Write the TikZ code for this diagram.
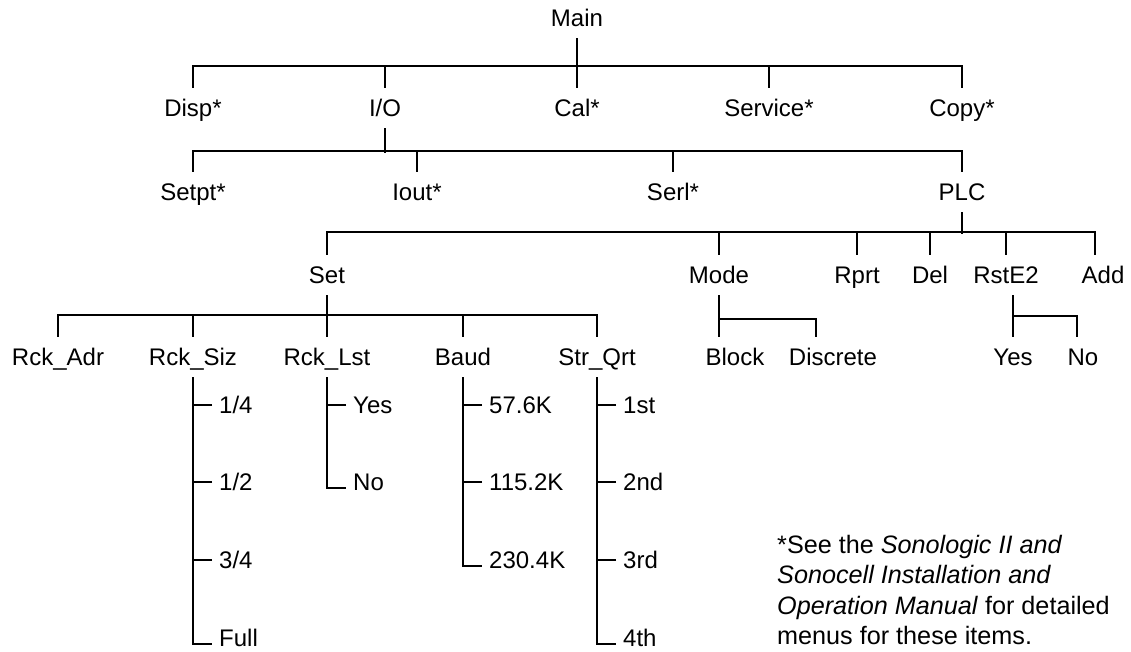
\documentclass[tikz,border=0pt]{standalone}
\usepackage{fontspec}
\setmainfont{Liberation Sans}

\begin{document}
\begin{tikzpicture}[x=0.5pt,y=-0.5pt,line width=1.2pt,
  menu/.style={font=\fontsize{12}{16}\selectfont,inner sep=0pt,text height=8.6pt,text depth=0pt,minimum height=19pt},
  choice/.style={menu,anchor=west,inner xsep=3pt}]
\useasboundingbox (0,0) rectangle (1131,652);
\node[menu] (main) at (577,18) {Main};
\node[menu] (disp) at (193,108) {Disp*};
\node[menu] (io) at (385,108) {I/O};
\node[menu] (cal) at (577,108) {Cal*};
\node[menu] (service) at (769,108) {Service*};
\node[menu] (copy) at (962,108) {Copy*};
\draw (main.south) -- (cal.north);
\draw (disp.north) -- ++(0,-22) -| (copy.north);
\draw (io.north) -- ++(0,-22);
\draw (service.north) -- ++(0,-22);
\node[menu] (setpt) at (193,192) {Setpt*};
\node[menu] (iout) at (417,192) {Iout*};
\node[menu] (serl) at (673,192) {Serl*};
\node[menu] (plc) at (962,192) {PLC};
\draw (io.south) -- ++(0,25);
\draw (setpt.north) -- ++(0,-21) -| (plc.north);
\draw (iout.north) -- ++(0,-21);
\draw (serl.north) -- ++(0,-21);
\node[menu] (set) at (327,275) {Set};
\node[menu] (mode) at (719,275) {Mode};
\node[menu] (rprt) at (857,275) {Rprt};
\node[menu] (del) at (930,275) {Del};
\node[menu] (rste) at (1006,275) {RstE2};
\node[menu] (add) at (1103,275) {Add};
\draw (plc.south) -- ++(0,22);
\draw (set.north) -- ++(0,-23) -| ([xshift=-4pt]add.north);
\draw (mode.north) -- ++(0,-23);
\draw (rprt.north) -- ++(0,-23);
\draw (del.north) -- ++(0,-23);
\draw (rste.north) -- ++(0,-23);
\node[menu] (rckadr) at (58,357) {Rck\_Adr};
\node[menu] (rcksiz) at (193,357) {Rck\_Siz};
\node[menu] (rcklst) at (327,357) {Rck\_Lst};
\node[menu] (baud) at (463,357) {Baud};
\node[menu] (strqrt) at (597,357) {Str\_Qrt};
\node[menu] (block) at (735,357) {Block};
\node[menu] (discrete) at (833,357) {Discrete};
\node[menu] (yes) at (1013,357) {Yes};
\node[menu] (no) at (1083,357) {No};
\draw (set.south) -- ++(0,22);
\draw (rckadr.north) -- ++(0,-22) -| (strqrt.north);
\draw (rcksiz.north) -- ++(0,-22);
\draw (rcklst.north) -- ++(0,-22);
\draw (baud.north) -- ++(0,-22);
\draw (mode.south) -- (mode.south |- block.north);
\draw (mode.south) ++(0,24) -| ([xshift=-8.5pt]discrete.north);
\draw (yes.north |- rste.south) -- (yes.north);
\draw (yes.north) ++(0,-21) -| ([xshift=-3pt]no.north);
\node[choice] (siz1) at (212,405) {1/4};
\node[choice] (siz2) at (212,482) {1/2};
\node[choice] (siz3) at (212,560) {3/4};
\node[choice] (siz4) at (212,638) {Full};
\draw (rcksiz.south) |- ([yshift=-3pt]siz4.west);
\foreach \n in {siz1,siz2,siz3} \draw (\n.west) -- (\n.west -| rcksiz.south);
\node[choice] (lst1) at (346,405) {Yes};
\node[choice] (lst2) at (346,482) {No};
\draw (rcklst.south) |- ([yshift=-3pt]lst2.west);
\draw (lst1.west) -- (lst1.west -| rcklst.south);
\node[choice] (baud1) at (482,405) {57.6K};
\node[choice] (baud2) at (482,482) {115.2K};
\node[choice] (baud3) at (482,560) {230.4K};
\draw (baud.south) |- ([yshift=-3pt]baud3.west);
\foreach \n in {baud1,baud2} \draw (\n.west) -- (\n.west -| baud.south);
\node[choice] (qrt1) at (616,405) {1st};
\node[choice] (qrt2) at (616,482) {2nd};
\node[choice] (qrt3) at (616,560) {3rd};
\node[choice] (qrt4) at (616,638) {4th};
\draw (strqrt.south) |- ([yshift=-3pt]qrt4.west);
\foreach \n in {qrt1,qrt2,qrt3} \draw (\n.west) -- (\n.west -| strqrt.south);
\node[anchor=north west,align=left,inner sep=0pt,font=\fontsize{12.6}{15.2}\selectfont] (note) at (776,534)
  {*See the \textit{Sonologic II and}\\\textit{Sonocell Installation and}\\\textit{Operation Manual} for detailed\\menus for these items.};
\end{tikzpicture}
\end{document}
